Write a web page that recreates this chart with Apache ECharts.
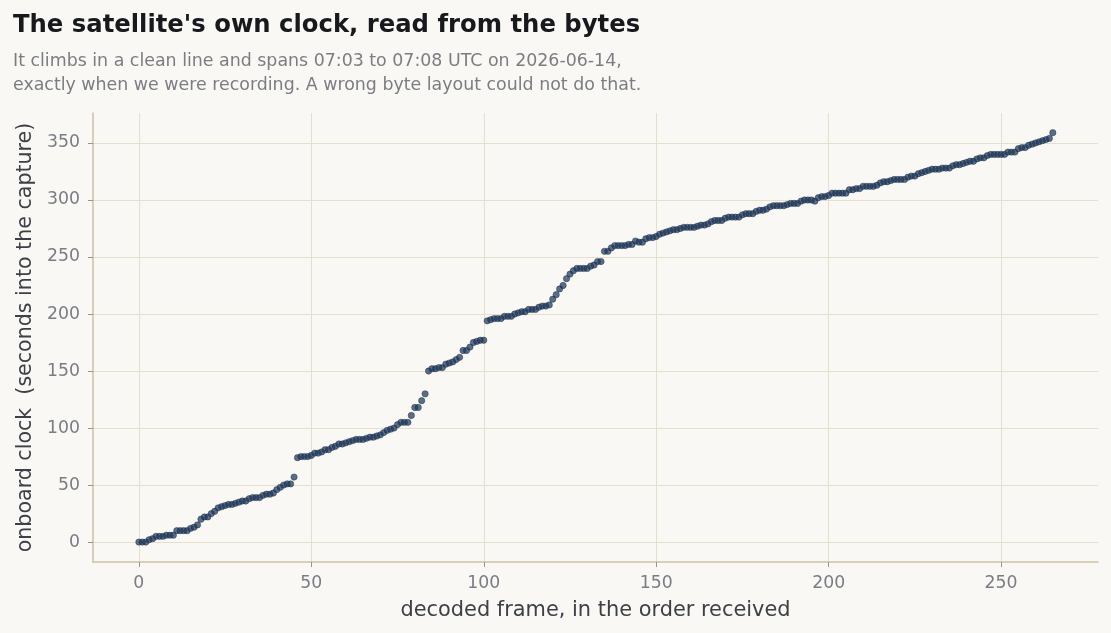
<!DOCTYPE html>
<html>
<head>
<meta charset="utf-8">
<script src="https://cdn.jsdelivr.net/npm/echarts@6/dist/echarts.min.js"></script>
<style>
  html, body { margin: 0; padding: 0; background: #f9f8f4; }
  #chart { width: 1111px; height: 633px; }
</style>
</head>
<body>
<div id="chart"></div>
<script>
// onboard clock (seconds into the capture), one value per decoded frame, in order received
const clockFrames0to45 = [0,0,0,2,3,5,5,5,6,6,6,10,10,10,10,12,13,15,20,22,22,25,27,30,31,32,33,33,34,35,36,36,38,39,39,39,41,42,42,43,46,48,50,51,51,57];
const clockFrames46to84 = [74,75,75,75,76,78,78,79,81,81,83,84,86,86,87,88,89,90,90,90,91,92,92,93,94,96,98,99,100,103,105,105,105,111,118,118,124,130,150];
const clockFrames85to100 = [152,152,153,153,156,157,158,160,162,168,168,171,175,176,177,177];
const clockFrames101to122 = [194,195,196,196,196,198,198,198,200,201,202,202,204,204,204,206,207,207,208,213,217,222];
const clockFrames123to162 = [225,231,235,238,240,240,240,240,242,243,246,246,255,255,258,260,260,260,260,261,261,264,263,263,266,267,267,268,270,271,272,273,274,274,275,276,276,276,276,277];
const clockFrames163to209 = [278,278,279,281,282,282,282,284,285,285,285,285,287,288,288,288,290,291,291,292,294,295,295,295,295,296,297,297,297,299,300,300,300,299,302,303,303,304,306,306,306,306,306,309,309,310,310];
const clockFrames210to265 = [312,312,312,312,313,315,316,316,317,318,318,318,318,320,321,321,323,324,325,326,327,327,327,328,328,328,330,331,331,332,333,334,334,336,337,337,339,340,340,340,340,340,342,342,342,345,346,346,348,349,350,351,352,353,354,359];

const xTicks = [0, 50, 100, 150, 200, 250];
const yTicks = [0, 50, 100, 150, 200, 250, 300, 350];

const titleText = "The satellite's own clock, read from the bytes";
const subtitleText = "It climbs in a clean line and spans 07:03 to 07:08 UTC on 2026-06-14,\nexactly when we were recording. A wrong byte layout could not do that.";
const xName = "decoded frame, in the order received";
const yName = "onboard clock  (seconds into the capture)";

const clock = [].concat(clockFrames0to45, clockFrames46to84, clockFrames85to100,
  clockFrames101to122, clockFrames123to162, clockFrames163to209, clockFrames210to265);
const points = clock.map((v, i) => [i, v]);

const FONT = "DejaVu Sans";
const axisCol = "#cdc1a7";
const gridCol = "#e6dfcd";

const chart = echarts.init(document.getElementById('chart'), null, { renderer: 'canvas' });
chart.setOption({
  backgroundColor: '#f9f8f4',
  animation: false,
  title: {
    text: titleText,
    subtext: subtitleText,
    left: 13,
    top: 11,
    padding: 0,
    itemGap: 8,
    textStyle: { fontFamily: FONT, fontSize: 24.3, fontWeight: 'bold', color: '#17191d', lineHeight: 30 },
    subtextStyle: { fontFamily: FONT, fontSize: 17.4, color: '#7b7d82', lineHeight: 24 }
  },
  grid: { left: 93, right: 13, top: 113, bottom: 71, containLabel: false },
  xAxis: {
    type: 'value',
    min: -13.3,
    max: 278.1,
    name: xName,
    nameLocation: 'middle',
    nameGap: 38,
    nameTextStyle: { fontFamily: FONT, fontSize: 20.9, color: '#3d4046' },
    axisLine: { show: true, onZero: false, lineStyle: { color: axisCol, width: 1.5 } },
    axisTick: { show: true, inside: false, length: 5, customValues: xTicks, lineStyle: { color: '#9c9486', width: 1 } },
    axisLabel: { customValues: xTicks, margin: 13, fontFamily: FONT, fontSize: 17.3, color: '#7b7d85' },
    splitLine: { show: true, lineStyle: { color: gridCol, width: 1 } }
  },
  yAxis: {
    type: 'value',
    min: -17.5,
    max: 376.3,
    name: yName,
    nameLocation: 'middle',
    nameGap: 55,
    nameRotate: 90,
    nameTextStyle: { fontFamily: FONT, fontSize: 20.6, color: '#3d4046' },
    axisLine: { show: true, onZero: false, lineStyle: { color: axisCol, width: 1.5 } },
    axisTick: { show: true, inside: false, length: 5, customValues: yTicks, lineStyle: { color: '#9c9486', width: 1 } },
    axisLabel: { customValues: yTicks, margin: 13, fontFamily: FONT, fontSize: 17.3, color: '#7b7d85' },
    splitLine: { show: true, lineStyle: { color: gridCol, width: 1 } }
  },
  series: [{
    type: 'scatter',
    data: points,
    symbol: 'circle',
    symbolSize: 6.3,
    itemStyle: { color: 'rgba(30,56,90,0.9)', borderColor: 'rgba(22,42,70,0.95)', borderWidth: 0.6 }
  }]
});
</script>
</body>
</html>
